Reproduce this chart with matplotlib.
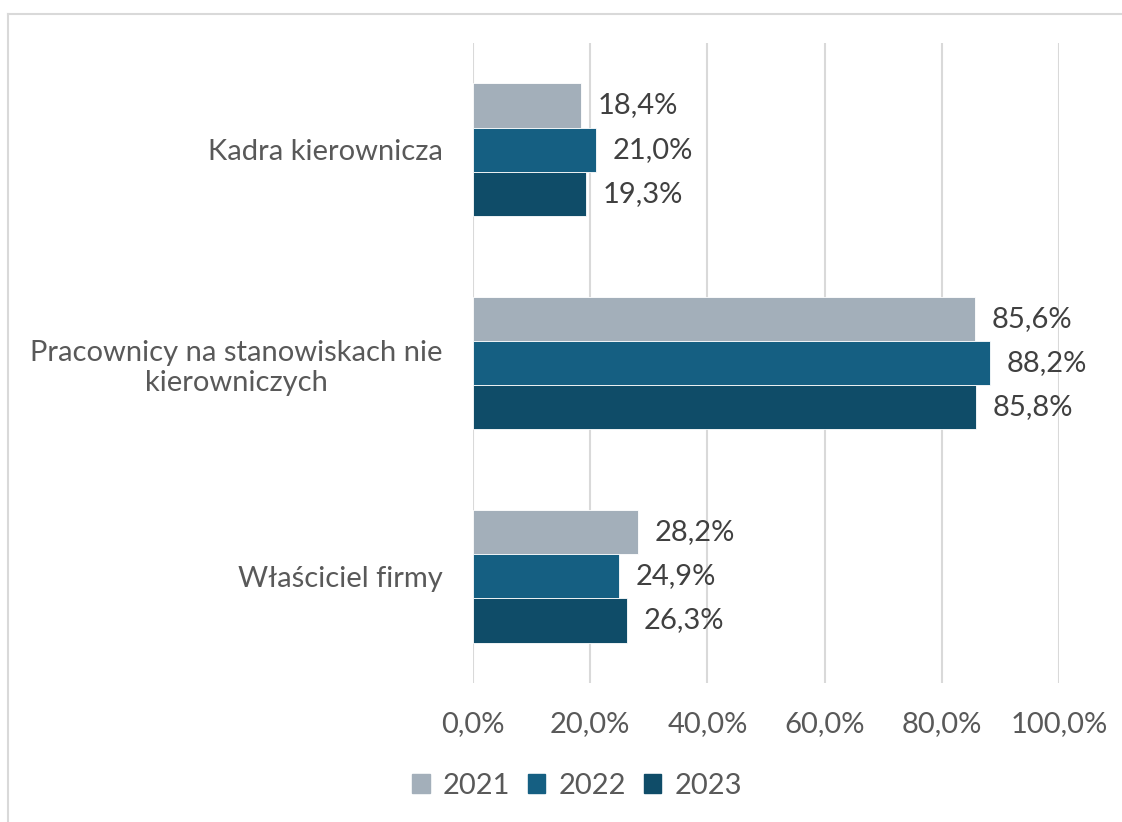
import matplotlib
matplotlib.use("Agg")
import matplotlib.pyplot as plt
import numpy as np
from matplotlib.lines import Line2D

plt.rcParams['font.family'] = ['Lato', 'DejaVu Sans']

categories = ["Kadra kierownicza", "Pracownicy na stanowiskach nie\nkierowniczych", "Właściciel firmy"]
years = ["2021", "2022", "2023"]
values_2021 = [18.4, 85.6, 28.2]
values_2022 = [21.0, 88.2, 24.9]
values_2023 = [19.3, 85.8, 26.3]
colors = ["#A3AFBA", "#155F82", "#0F4C68"]
ticks = [0, 20, 40, 60, 80, 100]

fig = plt.figure(figsize=(11.22, 8.22), dpi=100)
ax = fig.add_axes([473 / 1122, 1 - 683 / 822, (1059 - 473) / 1122, (683 - 43) / 822])

series = [values_2021, values_2022, values_2023]
y = np.arange(len(categories))
h = 0.207
for i, (vals, col, yr) in enumerate(zip(series, colors, years)):
    pos = y + (i - 1) * h
    bars = ax.barh(pos, vals, height=h, color=col, edgecolor="white", linewidth=0.6, label=yr, zorder=3)
    for b, v in zip(bars, vals):
        ax.annotate(f"{v:.1f}%".replace(".", ","), (v, b.get_y() + b.get_height() / 2),
                    xytext=(12, 0), textcoords="offset points", ha="left", va="center",
                    fontsize=21, color="#404040")

ax.set_ylim(2.5, -0.5)
ax.set_xlim(0, 100)
ax.set_xticks(ticks)
ax.set_xticklabels([f"{t:.1f}%".replace(".", ",") for t in ticks])
ax.set_yticks(y)
ax.set_yticklabels(categories, multialignment="center")
ax.tick_params(axis="both", length=0, labelsize=21, labelcolor="#595959")
ax.tick_params(axis="y", pad=22)
ax.tick_params(axis="x", pad=20)
ax.grid(axis="x", color="#D9D9D9", linewidth=1.5, zorder=0)
for s in ax.spines.values():
    s.set_visible(False)

handles = [plt.Rectangle((0, 0), 1, 1, color=c) for c in colors]
fig.legend(handles, years, loc="center", bbox_to_anchor=(577 / 1122, 1 - 786 / 822), ncol=3,
           frameon=False, fontsize=21, labelcolor="#595959", handlelength=0.6, handleheight=0.6,
           handletextpad=0.45, columnspacing=0.6)

# outer chart border (top and left visible)
fig.add_artist(Line2D([8 / 1122, 1.0], [1 - 14 / 822, 1 - 14 / 822], color="#D9D9D9", linewidth=1.5))
fig.add_artist(Line2D([8 / 1122, 8 / 1122], [0, 1 - 14 / 822], color="#D9D9D9", linewidth=1.5))

fig.savefig("out.png", dpi=100, facecolor="white")
